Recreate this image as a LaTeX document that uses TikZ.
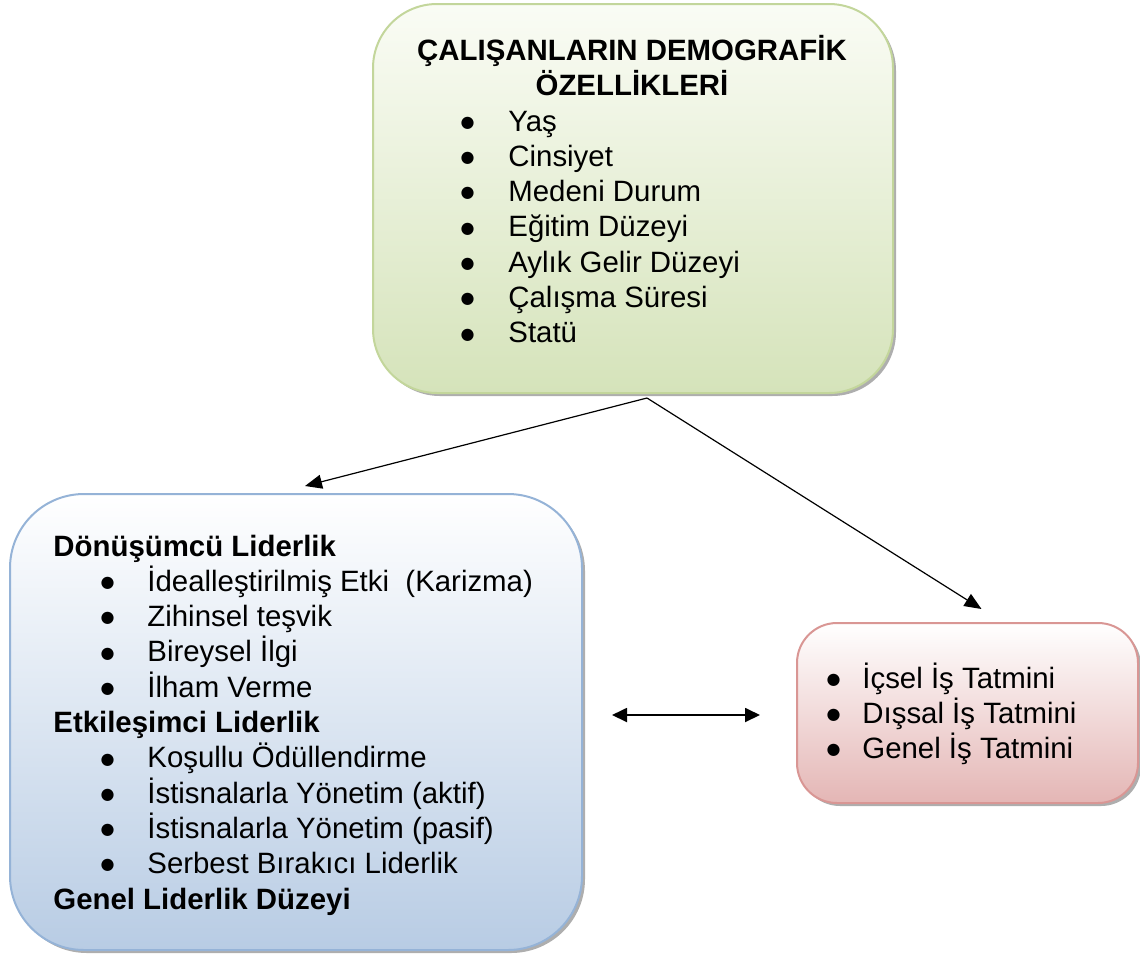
\documentclass[tikz,border=0pt]{standalone}
\usepackage{fontspec}
\setmainfont{Liberation Sans}
\newfontfamily\simge{DejaVu Sans}
\usetikzlibrary{positioning, calc, arrows.meta, shadows}

\definecolor{yesilkenar}{HTML}{C3D69B}
\definecolor{yesilust}{HTML}{FAFCF5}
\definecolor{yesilalt}{HTML}{D5E3BA}
\definecolor{mavikenar}{HTML}{95B3D7}
\definecolor{mavialt}{HTML}{B8CCE4}
\definecolor{pembekenar}{HTML}{D99694}
\definecolor{pembealt}{HTML}{E4B6B5}

\newcommand{\nokta}{\makebox[0.35em][c]{\raisebox{1.9pt}{\simge\fontsize{8}{8}\selectfont ●}}}
\newcommand{\madde}[2][23pt]{\makebox[#1][l]{\nokta}#2}

\tikzset{
	kutu/.style={draw, line width=1pt, rounded corners=#1, inner sep=0pt,
	             drop shadow={shadow xshift=1.5pt, shadow yshift=-1.5pt,
	                          fill=black!45, opacity=.7}},
	kutu/.default=30pt,
	yazi/.style={anchor=base west, inner sep=0pt},
	ok/.style={-{Triangle[length=8.5pt,width=7pt]}, line width=0.6pt},
	ciftok/.style={{Triangle[length=7.5pt,width=7pt]}-{Triangle[length=7.5pt,width=7pt]}, line width=0.9pt}
}

\begin{document}
\begin{tikzpicture}[x=0.5pt, y=-0.5pt, font=\fontsize{14.7}{17.65}\selectfont]
	\useasboundingbox (0,0) rectangle (1140,959);

	\node (demo) [kutu=32pt, draw=yesilkenar, top color=yesilust, bottom color=yesilalt,
	              minimum width=260pt, minimum height=194.5pt] at (633,198.5) {};
	\node (lider) [kutu=37pt, draw=mavikenar, top color=white, bottom color=mavialt,
	               minimum width=286pt, minimum height=228pt] at (296,722) {};
	\node (tatmin) [kutu=20pt, draw=pembekenar, top color=white, bottom color=pembealt,
	                minimum width=170.5pt, minimum height=90pt] at (967.5,713) {};

	\node (demobaslik) [anchor=base, inner sep=0pt] at (632,60)
	  {\parbox[t]{250pt}{\centering\bfseries ÇALIŞANLARIN DEMOGRAFİK\\ÖZELLİKLERİ}};
	\node (demoliste) [yazi] at (462,131)
	  {\parbox[t]{200pt}{%
	    \madde{Yaş}\\
	    \madde{Cinsiyet}\\
	    \madde{Medeni Durum}\\
	    \madde{Eğitim Düzeyi}\\
	    \madde{Aylık Gelir Düzeyi}\\
	    \madde{Çalışma Süresi}\\
	    \madde{Statü}}};

	\node (liderliste) [yazi] at (53,556)
	  {\parbox[t]{270pt}{%
	    \textbf{Dönüşümcü Liderlik}\\
	    \hspace*{24.5pt}\madde[22.5pt]{İdealleştirilmiş Etki\ \ (Karizma)}\\
	    \hspace*{24.5pt}\madde[22.5pt]{Zihinsel teşvik}\\
	    \hspace*{24.5pt}\madde[22.5pt]{Bireysel İlgi}\\
	    \hspace*{24.5pt}\madde[22.5pt]{İlham Verme}\\
	    \textbf{Etkileşimci Liderlik}\\
	    \hspace*{24.5pt}\madde[22.5pt]{Koşullu Ödüllendirme}\\
	    \hspace*{24.5pt}\madde[22.5pt]{İstisnalarla Yönetim (aktif)}\\
	    \hspace*{24.5pt}\madde[22.5pt]{İstisnalarla Yönetim (pasif)}\\
	    \hspace*{24.5pt}\madde[22.5pt]{Serbest Bırakıcı Liderlik}\\
	    \textbf{Genel Liderlik Düzeyi}}};

	\node (tatminliste) [yazi] at (828,688)
	  {\parbox[t]{150pt}{%
	    \madde[17pt]{İçsel İş Tatmini}\\
	    \madde[17pt]{Dışsal İş Tatmini}\\
	    \madde[17pt]{Genel İş Tatmini}}};

	\coordinate (kaynak) at ($(demo.south)+(14,4)$);
	\coordinate (sol) at (612,715);
	\coordinate (sag) at (760,715);
	\draw[ok] (kaynak) -- ($(lider.north)+(9,-7)$);
	\draw[ok] (kaynak) -- ($(tatmin.north)+(14,-13)$);
	\draw[ciftok] (sol) -- (sag);
\end{tikzpicture}
\end{document}
